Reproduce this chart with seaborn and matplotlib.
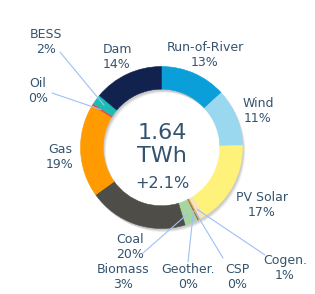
import matplotlib
matplotlib.use("Agg")
import matplotlib.pyplot as plt
import seaborn as sns
import numpy as np

# ---- data ----
sources = ["Run-of-River", "Wind", "PV Solar", "Cogen.", "CSP", "Geother.",
           "Biomass", "Coal", "Gas", "Oil", "BESS", "Dam"]
shares = [13.2, 11.4, 16.6, 1.0, 0.3, 0.2, 2.6, 19.8, 18.6, 0.4, 2.0, 13.9]
colors = ["#0a9fd8", "#9ad8f0", "#fff27a", "#f3e2c3", "#e8a04c", "#a0522d",
          "#a5d69f", "#4e4d48", "#ff9a00", "#e04e4e", "#1cbcb4", "#12224e"]
total_value = "1.64"
total_unit = "TWh"
change = "+2.1%"

sns.set_style("white")
plt.rcParams["font.family"] = ["DejaVu Sans"]

W, H = 315, 294
CX, CY, R = 161.5, 147.5, 81.0
fig = plt.figure(figsize=(W / 100, H / 100), dpi=100)
ax = fig.add_axes([0, 0, 1, 1])

def px(x, y):
    return ((x - CX) / R, (CY - y) / R)

txt_color = "#34536f"
ring_w = 0.28

# soft shadow
for i, (dx, dy, a) in enumerate([(0.035, -0.045, 0.05), (0.025, -0.035, 0.07), (0.015, -0.025, 0.09)]):
    ax.pie([1], radius=1.0, center=(dx, dy), colors=["#000000"],
           wedgeprops=dict(width=ring_w, alpha=a, linewidth=0))

wedges, _ = ax.pie(shares, colors=colors, startangle=90, counterclock=False,
                   radius=1.0, wedgeprops=dict(width=ring_w, linewidth=0.4, antialiased=True))
for w, c in zip(wedges, colors):
    w.set_edgecolor(c)

# label positions (layout, in pixels of the reference)
label_pos = {
    "Run-of-River": (205, 55), "Wind": (258, 111), "PV Solar": (262, 205),
    "Cogen.": (285, 268), "CSP": (237, 277), "Geother.": (188, 277),
    "Biomass": (123, 277), "Coal": (130, 247), "Gas": (60, 157),
    "Oil": (38, 91), "BESS": (46, 42), "Dam": (117, 57),
}
line_start = {
    "BESS": (60, 52), "Oil": (52, 93), "Biomass": (143, 253),
    "Geother.": (188, 262), "CSP": (223, 258), "Cogen.": (265, 255),
}

tot = sum(shares)
for name, val, w in zip(sources, shares, wedges):
    pct = val / tot * 100
    lx, ly = px(*label_pos[name])
    ax.text(lx, ly, f"{name}\n{pct:.0f}%", ha="center", va="center",
            fontsize=9, color=txt_color, linespacing=1.25, zorder=5)
    if name in line_start:
        mid = np.deg2rad((w.theta1 + w.theta2) / 2)
        r_end = 0.88
        ex, ey = r_end * np.cos(mid), r_end * np.sin(mid)
        sx, sy = px(*line_start[name])
        ax.plot([sx, ex], [sy, ey], color="#9fc0f5", lw=0.8, zorder=4)

# centre text
ax.text(*px(162, 133), total_value, ha="center", va="center", fontsize=16, color=txt_color)
ax.text(*px(162, 156), total_unit, ha="center", va="center", fontsize=16, color=txt_color)
ax.text(*px(162, 183), change, ha="center", va="center", fontsize=11.5, color=txt_color)

ax.set_xlim(-CX / R, (W - CX) / R)
ax.set_ylim(-(H - CY) / R, CY / R)
ax.set_aspect("auto")
ax.axis("off")
fig.savefig("out.png", dpi=100, facecolor="white")
